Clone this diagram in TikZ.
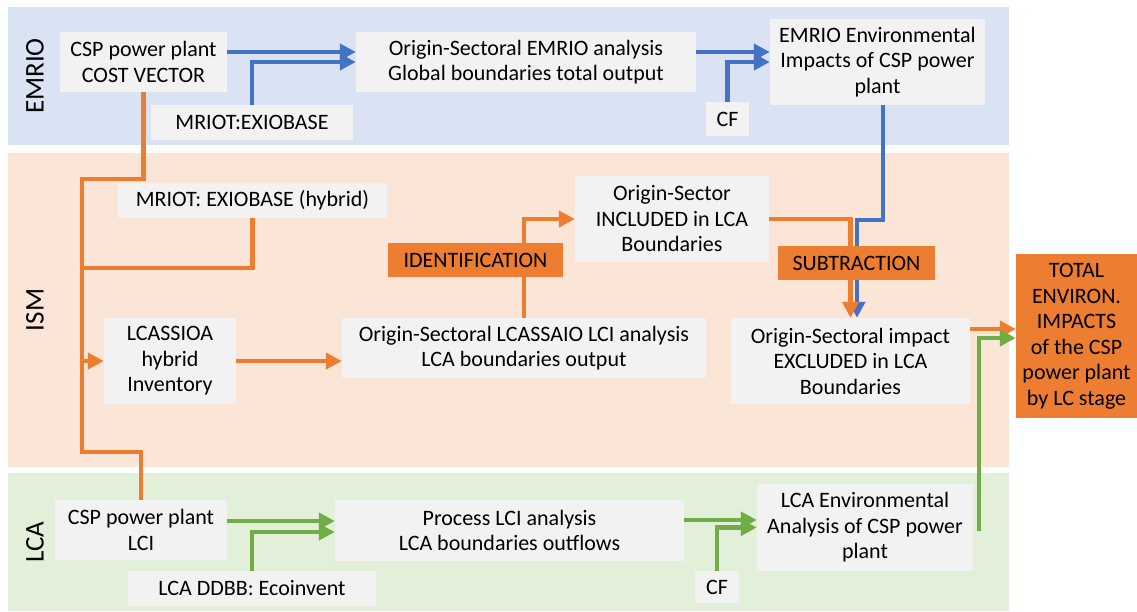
\documentclass[tikz,border=0pt]{standalone}
\usepackage{fontspec}
\setmainfont{Carlito}
\usetikzlibrary{arrows.meta}
\definecolor{bandB}{HTML}{DAE3F3}
\definecolor{bandO}{HTML}{FBE5D6}
\definecolor{bandG}{HTML}{E2F0D9}
\definecolor{boxgray}{HTML}{F2F2F2}
\definecolor{orangeC}{HTML}{ED7D31}
\definecolor{blueC}{HTML}{4472C4}
\definecolor{greenC}{HTML}{70AD47}
\begin{document}
\begin{tikzpicture}[x=1pt,y=-1pt,
  box/.style={fill=boxgray, inner sep=0pt, align=center, font=\fontsize{22}{25.5}\selectfont, text=black},
  obox/.style={fill=orangeC, inner sep=0pt, align=center, font=\fontsize{22}{25.5}\selectfont, text=black},
  band/.style={inner sep=0pt, rotate=90, font=\fontsize{27}{30}\selectfont, text=black},
  tip/.style={-{Triangle[length=16pt,width=16pt]}},
  lB/.style={draw=blueC, line width=4.5pt},
  lO/.style={draw=orangeC, line width=4.5pt},
  lG/.style={draw=greenC, line width=4.5pt}]
\useasboundingbox (0,0) rectangle (1137,611);
\fill[white] (0,0) rectangle (1137,611);
% bands
\fill[bandB] (8,7) rectangle (1009,145);
\fill[bandO] (8,153) rectangle (1009,467);
\fill[bandG] (8,473) rectangle (1009,611);
\node[band] (lbE) at (35,76) {EMRIO};
\node[band] (lbI) at (35,310) {ISM};
\node[band] (lbL) at (35,542) {LCA};
% boxes
\node[box, minimum width=167pt, minimum height=60pt] (cost) at (143.5,62) {CSP power plant\\COST VECTOR};
\node[box, minimum width=202pt, minimum height=35pt] (mriot) at (252,122.5) {MRIOT:EXIOBASE};
\node[box, minimum width=340pt, minimum height=60pt] (emrioA) at (526,62) {Origin-Sectoral EMRIO analysis\\Global boundaries total output};
\node[box, minimum width=43pt, minimum height=34pt] (cf1) at (727.5,119) {CF};
\node[box, minimum width=215pt, minimum height=86pt] (emrioE) at (877.5,62) {EMRIO Environmental\\Impacts of CSP power\\plant};
\node[box, minimum width=269pt, minimum height=35pt] (hyb) at (252.5,200.5) {MRIOT: EXIOBASE (hybrid)};
\node[box, minimum width=194pt, minimum height=86pt] (incl) at (672,219) {Origin-Sector\\INCLUDED in LCA\\Boundaries};
\node[box, minimum width=132pt, minimum height=86pt] (lcassioa) at (170,361) {LCASSIOA\\hybrid\\Inventory};
\node[box, minimum width=364pt, minimum height=60pt] (lcassaio) at (524,348) {Origin-Sectoral LCASSAIO LCI analysis\\LCA boundaries output};
\node[box, minimum width=239pt, minimum height=86pt] (excl) at (850.5,361) {Origin-Sectoral impact\\EXCLUDED in LCA\\Boundaries};
\node[obox, minimum width=121pt, minimum height=164pt] (total) at (1076.5,336) {TOTAL\\ENVIRON.\\IMPACTS\\of the CSP\\power plant\\by LC stage};
\node[box, minimum width=172pt, minimum height=60pt] (lci) at (141,530) {CSP power plant\\LCI};
\node[box, minimum width=248pt, minimum height=35pt] (ddbb) at (252,588.5) {LCA DDBB: Ecoinvent};
\node[box, minimum width=349pt, minimum height=61pt] (proc) at (509.5,530.5) {Process LCI analysis\\LCA boundaries outflows};
\node[box, minimum width=44pt, minimum height=32pt] (cf2) at (717,587) {CF};
\node[box, minimum width=216pt, minimum height=87pt] (lcaE) at (865,527.5) {LCA Environmental\\Analysis of CSP power\\plant};
% coordinates
\coordinate (t1) at (82,179);
\coordinate (t2) at (82,452);
\coordinate (t3) at (82,268);
\coordinate (bb) at (857,220);
\coordinate (g1) at (979,531);
% blue connectors
\draw[lB,tip] ([yshift=10pt]cost.east) -- ([yshift=10pt]emrioA.west);
\draw[lB,tip] (mriot.north) |- (emrioA.west);
\draw[lB,tip] ([yshift=10pt]emrioA.east) -- ([yshift=10pt]emrioE.west);
\draw[lB,tip] (cf1.north) |- (emrioE.west);
\draw[lB,tip] ([xshift=5.5pt]emrioE.south) |- (bb) -- ([xshift=6.5pt]excl.north);
% orange connectors
\draw[lO,tip] (incl.east) -| (excl.north);
\draw[lO] (cost.south) |- (t1) -- (t2) -| (lci.north);
\draw[lO] (hyb.south) |- (t3);
\draw[lO,tip] (t1 |- lcassioa.west) -- (lcassioa.west);
\draw[lO,tip] (lcassioa.east) -- (lcassioa.east -| lcassaio.west);
\draw[lO,tip] (lcassaio.north) |- (incl.west);
\draw[lO,tip] ([yshift=32pt]excl.east) -- ([yshift=32pt]excl.east -| total.west);
% green connectors
\draw[lG,tip] (g1) |- ([yshift=-2pt]total.west);
\draw[lG,tip] ([yshift=9pt]lci.east) -- ([yshift=9pt]lci.east -| proc.west);
\draw[lG,tip] (ddbb.north) |- ([yshift=-1.5pt]proc.west);
\draw[lG,tip] ([yshift=10.5pt]proc.east) -- ([yshift=10.5pt]proc.east -| lcaE.west);
\draw[lG,tip] (cf2.north) |- (lcaE.west);
% label boxes on top of lines
\node[obox, minimum width=175pt, minimum height=34pt] (ident) at (475.5,260) {IDENTIFICATION};
\node[obox, minimum width=157pt, minimum height=34pt] (subtr) at (856.5,263) {SUBTRACTION};
\end{tikzpicture}
\end{document}
